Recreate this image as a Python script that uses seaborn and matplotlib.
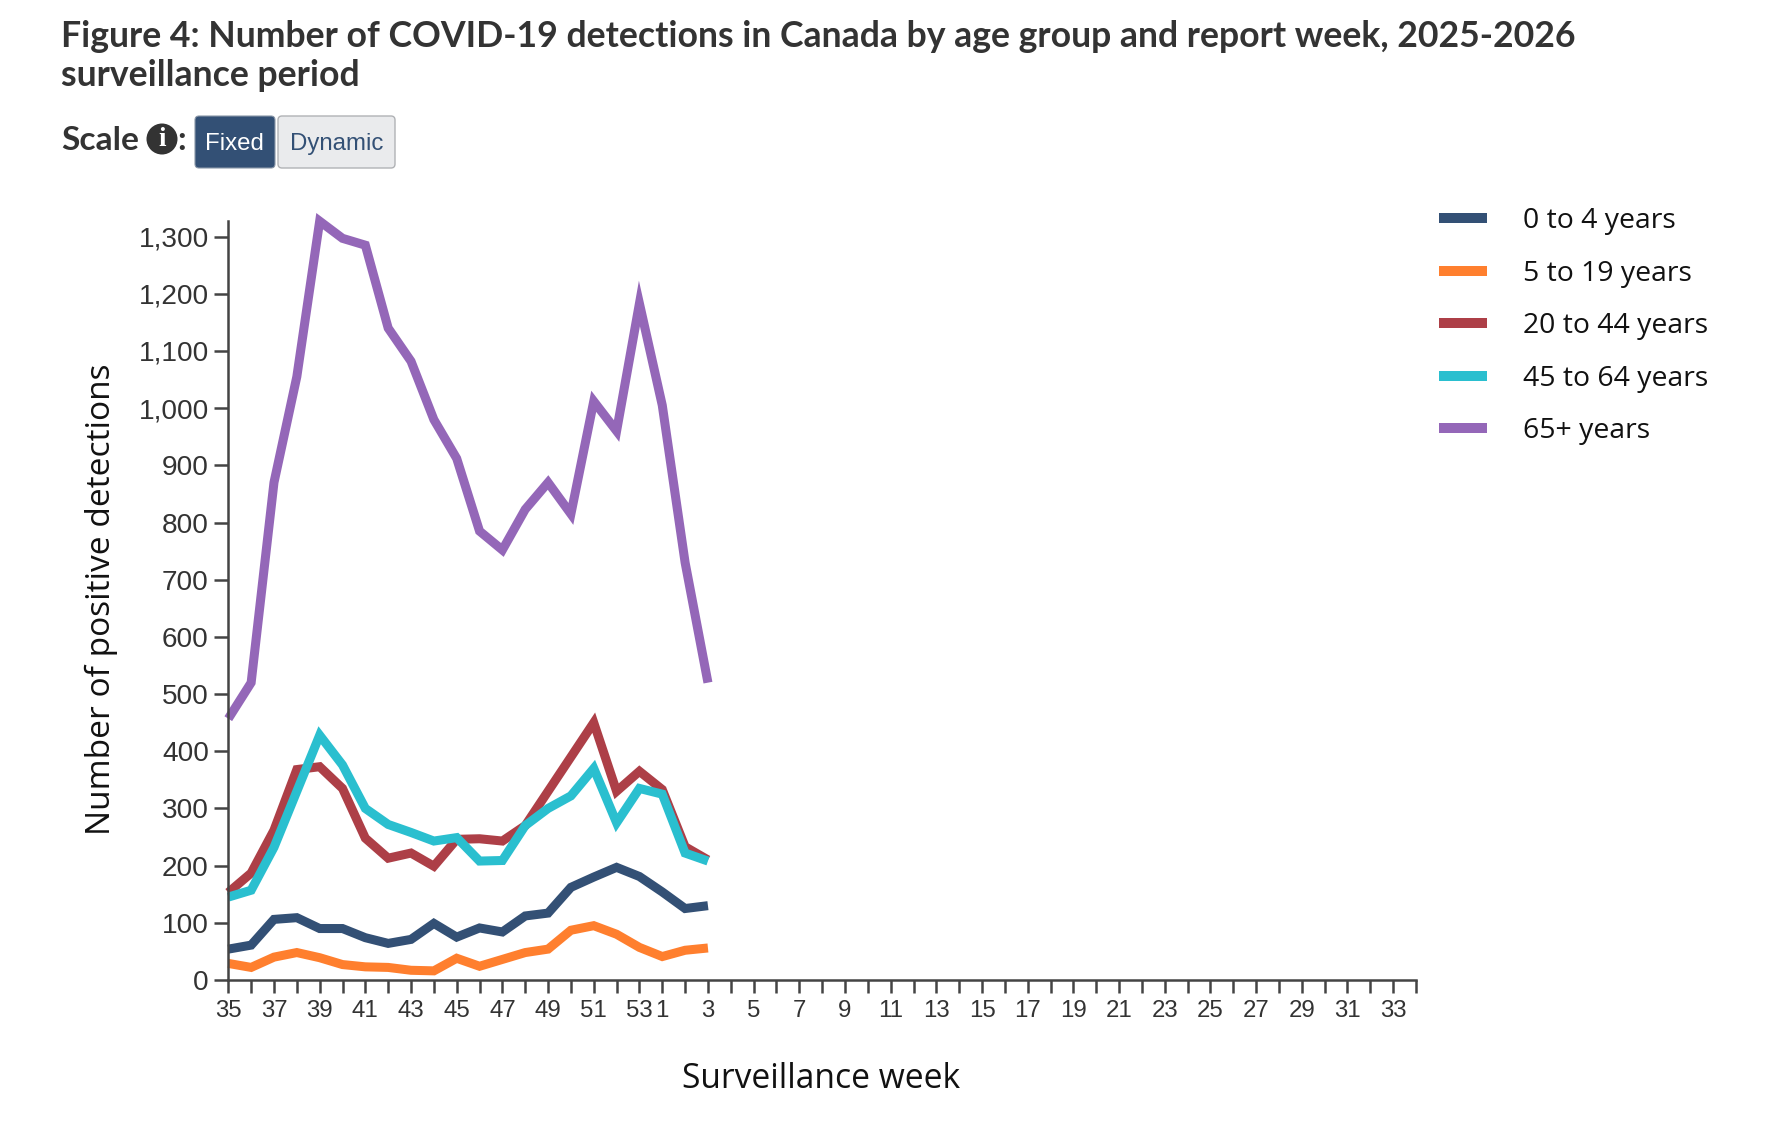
import matplotlib
matplotlib.use("Agg")
import matplotlib.pyplot as plt
from matplotlib.patches import FancyBboxPatch, Circle
from matplotlib.lines import Line2D
import pandas as pd
import seaborn as sns

W, H = 1771, 1132
TITLE = "Figure 4: Number of COVID-19 detections in Canada by age group and report week, 2025-2026\nsurveillance period"
XLABEL = "Surveillance week"
YLABEL = "Number of positive detections"

weeks = list(range(35, 54)) + list(range(1, 35))
groups = ["0 to 4 years", "5 to 19 years", "20 to 44 years", "45 to 64 years", "65+ years"]
colors = ["#335075", "#ff7f2e", "#ad3f47", "#2abfcf", "#9467b8"]
age_0_4 = [54, 61, 106, 109, 90, 90, 74, 64, 71, 99, 75, 91, 84, 112, 117, 162, 180, 197, 181, 154, 125, 130]
age_5_19 = [29, 22, 40, 48, 39, 27, 23, 22, 17, 16, 38, 24, 36, 48, 54, 87, 95, 80, 57, 41, 52, 56]
age_20_44 = [153, 187, 262, 368, 373, 335, 248, 213, 222, 199, 246, 247, 243, 270, 330, 390, 450, 330, 365, 333, 233, 210]
age_45_64 = [145, 157, 232, 330, 428, 376, 300, 272, 258, 243, 249, 208, 209, 270, 300, 322, 370, 275, 335, 325, 222, 208]
age_65 = [457, 520, 870, 1055, 1327, 1297, 1285, 1140, 1082, 980, 912, 785, 752, 823, 870, 815, 1012, 960, 1183, 1005, 730, 520]
yticks = list(range(0, 1400, 100))

sns.set_theme(style="white")
plt.rcParams["font.family"] = ["Liberation Sans", "DejaVu Sans"]

def pt(px):
    return px * 0.72

fig = plt.figure(figsize=(W / 100, H / 100), dpi=100, facecolor="white")
left, right, top, bottom = 228.3, 1416, 220.6, 980
ax = fig.add_axes([left / W, 1 - bottom / H, (right - left) / W, (bottom - top) / H])

series = [age_0_4, age_5_19, age_20_44, age_45_64, age_65]
frames = []
for g, vals in zip(groups, series):
    frames.append(pd.DataFrame({"pos": range(len(vals)), "value": vals, "group": g}))
df = pd.concat(frames, ignore_index=True)

sns.lineplot(data=df, x="pos", y="value", hue="group", hue_order=groups, palette=colors,
             linewidth=6.5, ax=ax, legend=False, estimator=None, sort=False,
             solid_joinstyle="miter", solid_capstyle="butt")
for ln in ax.get_lines():
    ln.set_clip_on(False)

ax.set_xlim(0, len(weeks) - 1)
ax.set_ylim(0, 1328)
ax.set_xticks(range(len(weeks)))
ax.set_xticklabels([str(w) if w % 2 == 1 else "" for w in weeks],
                   fontsize=pt(24), color="#333333")
ax.set_yticks(yticks)
ax.set_yticklabels([f"{v:,}" for v in yticks], fontsize=pt(28), color="#333333")
ax.tick_params(axis="x", length=9.4, width=1.8, color="#444444", pad=5, bottom=True)
ax.tick_params(axis="y", length=10, width=1.8, color="#444444", pad=4, left=True)
ax.set_xlabel(""); ax.set_ylabel("")
for s in ("top", "right"):
    ax.spines[s].set_visible(False)
for s in ("left", "bottom"):
    ax.spines[s].set_color("#444444")
    ax.spines[s].set_linewidth(1.8)

def T(x, y, s, **kw):
    return fig.text(x / W, 1 - y / H, s, **kw)

T(61, 56, TITLE, family=["Lato", "DejaVu Sans"], fontweight="bold", fontsize=pt(35.6),
  color="#333333", ha="left", va="center", linespacing=1.25)
T(61, 141, "Scale", family=["Lato", "DejaVu Sans"], fontweight="bold", fontsize=pt(33.5),
  color="#333333", ha="left", va="center")
T(177, 141, ":", family=["Lato", "DejaVu Sans"], fontweight="bold", fontsize=pt(33.5),
  color="#333333", ha="left", va="center")
T(821.5, 1078.5, XLABEL, family=["Open Sans", "DejaVu Sans"], fontsize=pt(33.6), color="#111111",
  ha="center", va="center")
T(101, 599.5, YLABEL, family=["Open Sans", "DejaVu Sans"], fontsize=pt(33.5), color="#111111",
  ha="center", va="center", rotation=90)

# page controls, placed in pixel space
pix = matplotlib.transforms.Affine2D().scale(1, -1).translate(0, H)
fig.add_artist(Circle((162, 139), 15.5, transform=pix, fc="#333333", ec="none"))
T(162, 139, "i", family=["Liberation Serif"], fontweight="bold", fontsize=pt(27), color="white",
  ha="center", va="center")
fig.add_artist(FancyBboxPatch((195, 116), 80, 52, boxstyle="round,pad=0,rounding_size=4",
                              transform=pix, fc="#335075", ec="#8a97a8", lw=0.8))
fig.add_artist(FancyBboxPatch((278, 116), 117, 52, boxstyle="round,pad=0,rounding_size=4",
                              transform=pix, fc="#eaebed", ec="#b0b2b5", lw=1))
T(234.5, 144, "Fixed", fontsize=pt(24), color="white", ha="center", va="center")
T(337, 144, "Dynamic", fontsize=pt(24), color="#335075", ha="center", va="center")

# legend
handles = [Line2D([], [], color=c, lw=7.2, solid_capstyle="butt") for c in colors]
fig.legend(handles, groups, loc="upper left", bbox_to_anchor=(1439 / W, 1 - 207.4 / H),
           frameon=False, borderpad=0, borderaxespad=0,
           handlelength=48 / 28.4, handletextpad=36 / 28.4, labelspacing=0.86,
           prop={"family": ["Open Sans", "DejaVu Sans"], "size": pt(28.4)}, labelcolor="#111111")

fig.savefig("out.png", dpi=100, facecolor="white")
